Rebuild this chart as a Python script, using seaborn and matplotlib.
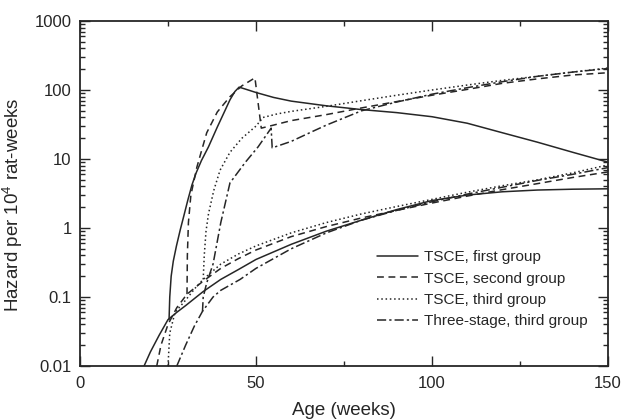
import numpy as np
import pandas as pd
import seaborn as sns
import matplotlib
matplotlib.use("Agg")
import matplotlib.pyplot as plt
from matplotlib.ticker import FixedLocator, FuncFormatter, LogLocator, NullFormatter

# ---- hazard curves (age in weeks, hazard per 10^4 rat-weeks) ----
# TSCE, first group
first_low_wk = [18.2, 20, 22.5, 25, 27.5, 30, 35, 40, 45, 50, 60, 70, 80, 90, 100, 110, 120, 130, 140, 150]
first_low_h = [0.01, 0.016, 0.028, 0.047, 0.06, 0.075, 0.12, 0.18, 0.25, 0.35, 0.58, 0.9, 1.3, 1.85, 2.5, 3.0, 3.35, 3.55, 3.65, 3.7]
first_up_wk = [25.3, 25.5, 25.9, 26.5, 27.4, 28.5, 29.5, 30.6, 31.8, 33, 34.5, 36.5, 39, 41, 42.6, 44, 45.2,
               47, 50, 55, 60, 70, 80, 90, 100, 110, 120, 130, 140, 150]
first_up_h = [0.047, 0.1, 0.2, 0.33, 0.55, 0.95, 1.5, 2.5, 4.2, 6.3, 9.5, 15, 29, 48, 72, 95, 110,
              103, 92, 78, 69, 59, 52, 47, 41, 33, 24, 17.5, 12.5, 9]

# TSCE, second group
second_low_wk = [21.8, 23, 25, 27.5, 30.4, 35, 40, 45, 50, 60, 70, 80, 90, 100, 110, 120, 130, 140, 150]
second_low_h = [0.01, 0.02, 0.04, 0.07, 0.11, 0.17, 0.26, 0.36, 0.48, 0.75, 1.05, 1.4, 1.8, 2.3, 2.9, 3.6, 4.4, 5.4, 6.5]
second_up_wk = [30.4, 30.5, 30.8, 31.5, 33.2, 34.5, 36, 39, 42.6, 46, 49.7, 51.5, 55, 60, 70, 80, 90, 100, 110, 120, 130, 140, 150]
second_up_h = [0.11, 0.4, 1.2, 3, 7.6, 13, 24, 48, 80, 115, 150, 28, 31, 36, 44, 55, 68, 84, 102, 125, 145, 165, 178]

# TSCE, third group
third_low_wk = [25, 25.5, 27, 30, 33, 35, 40, 45, 50, 60, 70, 80, 90, 100, 110, 120, 130, 140, 150]
third_low_h = [0.01, 0.03, 0.06, 0.09, 0.14, 0.18, 0.3, 0.42, 0.55, 0.85, 1.2, 1.6, 2.05, 2.6, 3.3, 4.1, 5.0, 6.3, 8.2]
third_up_wk = [35, 35.3, 35.8, 36.5, 38, 39.8, 42.6, 46, 50, 52, 56, 60, 70, 80, 90, 100, 110, 120, 130, 140, 150]
third_up_h = [0.18, 0.4, 0.9, 1.6, 3.5, 6.9, 12.5, 20, 30, 40, 45, 49, 58, 70, 84, 100, 118, 138, 158, 182, 208]

# Three-stage model, third group
three_low_wk = [27.5, 30, 32.5, 34.8, 37.8, 40, 45.5, 50, 60, 70, 80, 90, 100, 110, 120, 130, 140, 150]
three_low_h = [0.01, 0.02, 0.038, 0.062, 0.1, 0.125, 0.18, 0.26, 0.5, 0.85, 1.3, 1.8, 2.4, 3.1, 3.9, 4.9, 6.0, 7.5]
three_up_wk = [34.8, 35.0, 36, 37.8, 40, 42.6, 47, 50.6, 54.3, 54.6, 60, 66, 70, 80, 90, 100, 110, 120, 130, 140, 150]
three_up_h = [0.062, 0.1, 0.16, 0.3, 1.2, 4.5, 9, 15, 28, 14.5, 18, 25, 31, 50, 67, 87, 108, 132, 158, 182, 205]

labels = ["TSCE, first group", "TSCE, second group", "TSCE, third group", "Three-stage, third group"]
x_ticks = [0, 50, 100, 150]
y_ticks = [0.01, 0.1, 1, 10, 100, 1000]

sns.set_style("ticks")
plt.rcParams["font.family"] = ["Liberation Sans", "DejaVu Sans"]
plt.rcParams["mathtext.default"] = "regular"

ink = "#262626"
fig = plt.figure(figsize=(6.23, 4.20), dpi=100)
ax = fig.add_axes([80 / 623, 1 - 366 / 420, 528 / 623, 345 / 420])

dash_styles = [(None, None), (4.5, 3), (1, 1.8), (6, 2, 1.5, 2)]
curves = [
    (first_low_wk, first_low_h, first_up_wk, first_up_h),
    (second_low_wk, second_low_h, second_up_wk, second_up_h),
    (third_low_wk, third_low_h, third_up_wk, third_up_h),
    (three_low_wk, three_low_h, three_up_wk, three_up_h),
]

for (lw_x, lw_y, up_x, up_y), dash, lab in zip(curves, dash_styles, labels):
    for xs, ys, name in ((up_x, up_y, lab), (lw_x, lw_y, None)):
        df = pd.DataFrame({"week": xs, "hazard": ys})
        sns.lineplot(data=df, x="week", y="hazard", ax=ax, estimator=None, sort=False,
                     color=ink, linewidth=1.1, label=name, legend=False)
        line = ax.lines[-1]
        if dash[0] is None:
            line.set_linestyle("-")
        else:
            line.set_dashes(dash)

ax.set_yscale("log")
ax.set_xlim(0, 150)
ax.set_ylim(0.01, 1000)

ax.xaxis.set_major_locator(FixedLocator(x_ticks))
ax.xaxis.set_minor_locator(FixedLocator([25, 75, 125]))
ax.yaxis.set_major_locator(FixedLocator(y_ticks))
ax.yaxis.set_minor_locator(LogLocator(base=10, subs=np.arange(2, 10), numticks=20))
ax.yaxis.set_minor_formatter(NullFormatter())
ax.yaxis.set_major_formatter(FuncFormatter(lambda v, p: f"{v:g}"))

ax.tick_params(which="both", direction="in", top=True, right=True, colors=ink,
               labelcolor=ink, width=1.0)
ax.tick_params(which="major", length=7, labelsize=12)
ax.tick_params(axis="y", which="major", pad=6)
ax.tick_params(axis="x", which="major", pad=7)
ax.tick_params(which="minor", length=3.5)
for sp in ax.spines.values():
    sp.set_visible(True)
    sp.set_color(ink)
    sp.set_linewidth(1.3)

ax.set_xlabel("Age (weeks)", fontsize=13.5, color=ink, labelpad=8)
ax.set_ylabel("Hazard per 10$^{4}$ rat-weeks", fontsize=13.5, color=ink)
ax.yaxis.set_label_coords(-0.104, 0.467)

handles, labs = ax.get_legend_handles_labels()
ax.legend(handles, labs, loc="upper left", bbox_to_anchor=(0.5625, 0.335), frameon=False,
          fontsize=11, handlelength=2.7, handletextpad=0.4, labelspacing=0.48,
          labelcolor=ink, borderaxespad=0, borderpad=0)

fig.savefig("out.png", dpi=100, facecolor="white")
